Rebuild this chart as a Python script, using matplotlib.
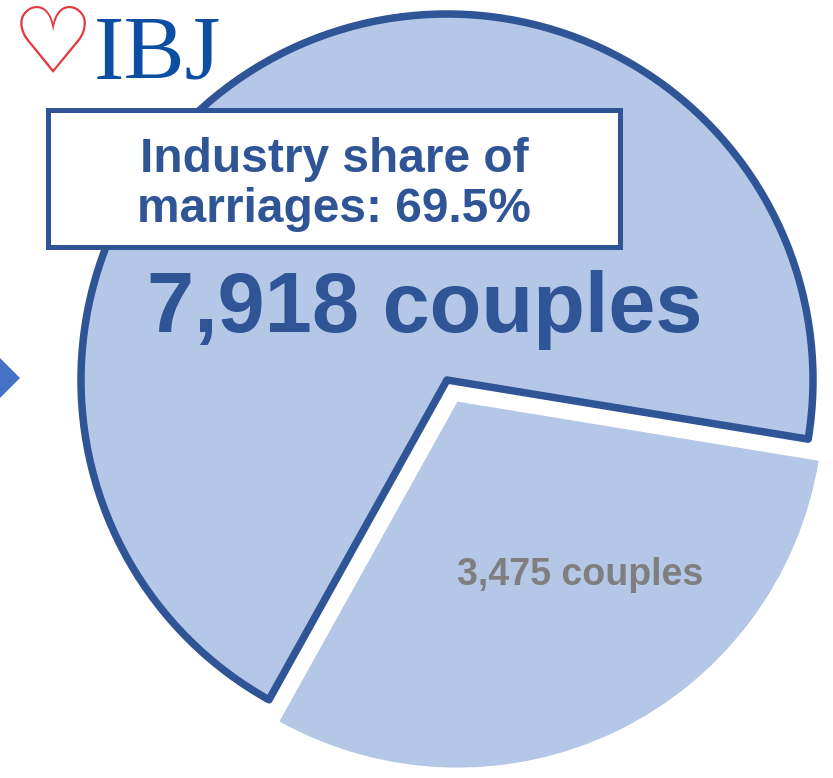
#!/usr/bin/env python3
"""IBJ share of marriages: exploded two-slice pie."""

import matplotlib

matplotlib.use("Agg")

import matplotlib.pyplot as plt
from matplotlib.patches import Polygon, Rectangle

# data
segments = ["IBJ", "Others"]
couples = [7918, 3475]
share_text = "Industry share of\nmarriages: 69.5%"
big_label = "7,918 couples"
small_label = "3,475 couples"

W, H = 833, 778
FILL = "#B4C7E7"
DARK = "#2F5597"
PX = 72 / 100  # points per pixel at dpi 100


def main() -> int:
    fig = plt.figure(figsize=(W / 100, H / 100), dpi=100)
    ax = fig.add_axes([0, 0, 1, 1])

    wedges, _ = ax.pie(
        couples,
        center=(447, H - 380),
        radius=366,
        startangle=-9.3,
        counterclock=True,
        explode=[0, 24],
        colors=[FILL, FILL],
        wedgeprops=dict(edgecolor=DARK, linewidth=7.5 * PX, joinstyle="round"),
    )
    wedges[1].set_linewidth(0)
    wedges[0].set_zorder(2)
    wedges[1].set_zorder(1)

    ax.set_xlim(0, W)
    ax.set_ylim(0, H)
    ax.set_aspect("equal")
    ax.axis("off")

    # label box
    ax.add_patch(Rectangle((48, H - 247), 572, 137, facecolor="white",
                           edgecolor=DARK, linewidth=5 * PX, zorder=4))
    line1, line2 = share_text.split("\n")
    ax.text(334, H - 172, line1, ha="center", va="baseline",
            fontsize=34.5, fontweight="bold", color=DARK,
            family="Liberation Sans", zorder=5)
    ax.text(334, H - 222, line2, ha="center", va="baseline",
            fontsize=34.5, fontweight="bold", color=DARK,
            family="Liberation Sans", zorder=5)

    ax.text(425, H - 332, big_label, ha="center", va="baseline", fontsize=61,
            fontweight="bold", color=DARK, family="Liberation Sans", zorder=5)
    ax.text(580, H - 585, small_label, ha="center", va="baseline", fontsize=27,
            fontweight="bold", color="#7F7F7F", family="Liberation Sans", zorder=5)

    # arrow tip at the left edge
    ax.add_patch(Polygon([(0, H - 358), (20, H - 378), (0, H - 398)],
                         closed=True, facecolor="#4472C4", edgecolor="none"))

    # logo
    ax.text(53, H - 46, "\u2661", ha="center", va="center", fontsize=66,
            fontweight="bold", color="#E0393E", family="DejaVu Sans", zorder=6)
    ax.text(94, H - 78, "IBJ", ha="left", va="baseline", fontsize=66,
            color="#0B4EA2", family="Liberation Serif", zorder=6)

    fig.savefig("out.png", dpi=100)
    plt.close(fig)
    return 0


if __name__ == "__main__":
    raise SystemExit(main())
